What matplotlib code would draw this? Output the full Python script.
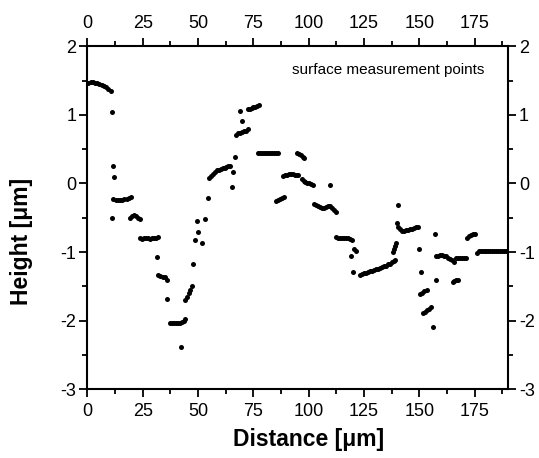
import numpy as np
import matplotlib
matplotlib.use("Agg")
import matplotlib.pyplot as plt
from matplotlib.ticker import MultipleLocator

plt.rcParams['font.family'] = ['Liberation Sans', 'DejaVu Sans']
plt.rcParams['axes.unicode_minus'] = False

# surface profile points (distance in um, height in um)
distance = [
    0.5, 1.5, 2.5, 3.5, 4.5, 5.5, 6.5, 7.5, 8.5, 9.5, 10.5,
    11.0, 11.5, 11.9, 11.3,
    11.8, 12.8, 13.8, 14.8, 15.8, 16.8, 17.8, 18.8, 19.8,
    19.3, 20.2, 21.1, 22.0, 22.9, 23.6,
    23.8, 24.7, 25.6, 26.5, 27.4, 28.3, 29.2, 30.1, 31.0, 31.9,
    31.3,
    32.0, 33.0, 34.0, 35.0, 36.2,
    36.1,
    37.2, 38.1, 39.0, 39.9, 40.8, 41.7, 42.6, 43.5, 44.3,
    42.2,
    44.2, 45.0, 45.8, 46.6, 47.4,
    47.9,
    48.6, 49.7, 50.0, 51.9, 53.2,
    54.4,
    54.8, 55.7, 56.6, 57.5, 58.4, 59.3, 60.2, 61.1, 62.0, 62.9, 63.8, 64.7,
    65.2, 65.9, 66.7,
    67.0, 67.9, 68.8, 69.7, 70.6, 71.5, 72.4,
    69.7,
    69.0, 72.4, 73.3, 74.2, 75.1, 76.0, 76.9, 77.8,
    77.2, 78.1, 79.0, 79.9, 80.8, 81.7, 82.6, 83.5, 84.4, 85.3, 86.2,
    85.1, 86.0, 87.0, 88.0, 89.0,
    88.3, 89.2, 90.1, 91.0, 91.9, 92.8, 93.7, 94.6, 95.3,
    94.6, 95.5, 96.4, 97.3, 98.0,
    97.1, 97.8, 98.6, 99.5, 100.4, 101.3, 102.2,
    109.6,
    102.4, 103.3, 104.2, 105.1, 106.0, 106.9, 107.8, 108.7, 109.6, 110.5, 111.4, 112.3,
    112.6, 113.5, 114.4, 115.3, 116.2, 117.1, 118.0, 118.9, 119.4,
    119.3, 120.6, 121.5,
    120.1,
    123.2, 124.1, 125.0, 125.9, 126.8, 127.7, 128.6, 129.5, 130.4, 131.3,
    132.2, 133.1, 134.0, 134.9, 135.8, 136.7, 137.6, 138.5, 139.0,
    138.3, 138.7, 139.1, 139.5,
    140.4,
    139.8, 140.6, 141.4, 142.2, 143.1, 144.0, 144.9, 145.8, 146.7, 147.6, 148.5, 149.4,
    149.9, 150.9,
    150.5, 151.4, 152.3, 153.3,
    151.6, 152.5, 153.4, 154.3, 155.2,
    156.0, 157.0, 157.4,
    157.4, 158.3, 159.2, 160.1, 161.0, 161.9, 162.8, 163.7, 164.6, 165.5,
    165.1, 165.9, 166.7, 167.5,
    166.8, 167.7, 168.6, 169.5, 170.4, 171.3,
    171.8, 172.7, 173.6, 174.5, 175.4,
    176.0, 176.8, 177.7, 178.6, 179.5, 180.4, 181.3, 182.2, 183.1, 184.0,
    184.9, 185.8, 186.7, 187.6, 188.5, 189.4,
]
height = [
    1.47, 1.48, 1.48, 1.47, 1.46, 1.45, 1.43, 1.42, 1.40, 1.38, 1.35,
    1.04, 0.26, 0.10, -0.51,
    -0.22, -0.24, -0.24, -0.24, -0.24, -0.23, -0.22, -0.21, -0.19,
    -0.50, -0.47, -0.46, -0.48, -0.50, -0.52,
    -0.80, -0.81, -0.80, -0.79, -0.80, -0.81, -0.80, -0.79, -0.79, -0.78,
    -1.07,
    -1.33, -1.35, -1.36, -1.37, -1.40,
    -1.68,
    -2.03, -2.03, -2.03, -2.03, -2.03, -2.03, -2.02, -2.00, -1.97,
    -2.39,
    -1.70, -1.65, -1.60, -1.55, -1.50,
    -1.17,
    -0.83, -0.54, -0.71, -0.87, -0.52,
    -0.21,
    0.08, 0.11, 0.14, 0.16, 0.19, 0.20, 0.21, 0.22, 0.23, 0.24, 0.25, 0.26,
    -0.05, 0.17, 0.39,
    0.71, 0.73, 0.74, 0.75, 0.76, 0.77, 0.79,
    0.91,
    1.06, 1.08, 1.09, 1.10, 1.11, 1.12, 1.13, 1.15,
    0.45, 0.45, 0.45, 0.45, 0.45, 0.45, 0.45, 0.45, 0.45, 0.45, 0.45,
    -0.26, -0.24, -0.23, -0.21, -0.19,
    0.11, 0.12, 0.13, 0.14, 0.14, 0.14, 0.13, 0.13, 0.12,
    0.44, 0.43, 0.41, 0.39, 0.37,
    0.07, 0.04, 0.02, 0.01, 0.00, -0.01, -0.02,
    -0.02,
    -0.30, -0.31, -0.33, -0.35, -0.36, -0.36, -0.35, -0.33, -0.33, -0.36, -0.38, -0.42,
    -0.78, -0.79, -0.79, -0.80, -0.80, -0.79, -0.80, -0.81, -0.82,
    -1.06, -0.96, -0.98,
    -1.29,
    -1.33, -1.32, -1.31, -1.30, -1.29, -1.28, -1.27, -1.26, -1.25, -1.24,
    -1.23, -1.22, -1.21, -1.20, -1.18, -1.17, -1.15, -1.13, -1.12,
    -1.00, -0.95, -0.91, -0.87,
    -0.32,
    -0.58, -0.63, -0.67, -0.69, -0.69, -0.68, -0.68, -0.67, -0.66, -0.65, -0.64, -0.63,
    -0.96, -1.29,
    -1.61, -1.59, -1.57, -1.55,
    -1.89, -1.87, -1.85, -1.83, -1.80,
    -2.09, -0.74, -1.40,
    -1.06, -1.05, -1.04, -1.04, -1.05, -1.06, -1.08, -1.10, -1.12, -1.14,
    -1.44, -1.42, -1.41, -1.40,
    -1.09, -1.09, -1.09, -1.09, -1.09, -1.09,
    -0.80, -0.77, -0.75, -0.74, -0.73,
    -1.02, -0.99, -0.98, -0.98, -0.98, -0.98, -0.98, -0.98, -0.98, -0.98,
    -0.98, -0.98, -0.98, -0.98, -0.98, -0.98,
]

x_ticks = [0, 25, 50, 75, 100, 125, 150, 175]
y_ticks = [2, 1, 0, -1, -2, -3]

fig = plt.figure(figsize=(5.39, 4.58), dpi=100)
ax = fig.add_axes([0.162, 0.150, 0.780, 0.749])

ax.plot(distance, height, 'o', color='black', markersize=3.6, markeredgewidth=0)

ax.set_xlim(0, 190)
ax.set_ylim(-3, 2)
ax.set_xticks(x_ticks)
ax.set_yticks(y_ticks)
ax.xaxis.set_minor_locator(MultipleLocator(12.5))
ax.yaxis.set_minor_locator(MultipleLocator(0.5))

ax.tick_params(which='both', direction='out', top=True, right=True,
               labeltop=True, labelright=True, width=1.3, labelsize=13, pad=2)
ax.tick_params(which='major', length=6)
ax.tick_params(which='minor', length=3.5)
ax.xaxis.set_tick_params(pad=4)
for sp in ax.spines.values():
    sp.set_linewidth(1.5)

ax.set_xlabel("Distance [μm]", fontsize=16.5, fontweight='bold')
ax.set_ylabel("Height [μm]", fontsize=16.5, fontweight='bold')
ax.xaxis.set_label_coords(0.527, -0.112)
ax.yaxis.set_label_coords(-0.13, 0.43)

ax.text(0.945, 0.93, "surface measurement points", transform=ax.transAxes,
        ha='right', va='center', fontsize=11)

fig.savefig("out.png", dpi=100)
